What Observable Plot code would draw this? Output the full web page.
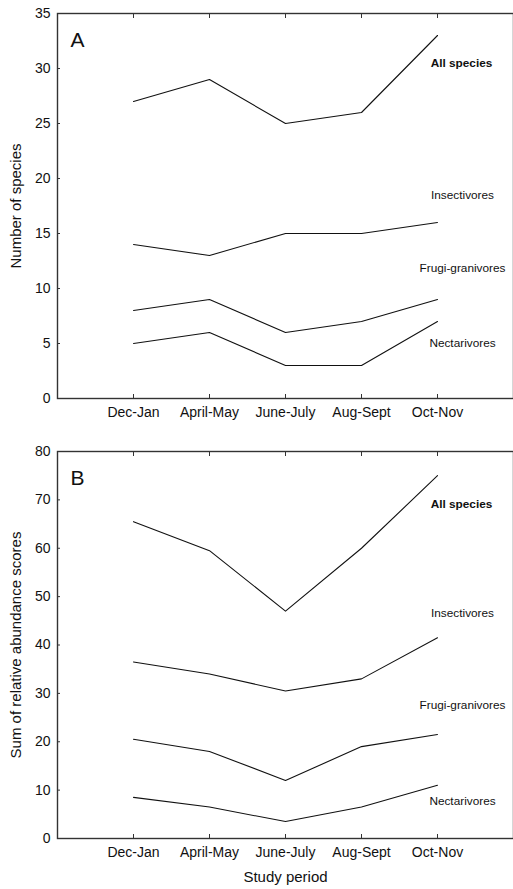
<!DOCTYPE html>
<html>
<head>
<meta charset="utf-8">
<script src="https://cdn.jsdelivr.net/npm/d3@7"></script>
<script src="https://cdn.jsdelivr.net/npm/@observablehq/plot@0.6"></script>
<style>
  html, body { margin: 0; padding: 0; background: #fff; }
  #chart svg { display: block; }
  #chart g[aria-label="x-axis tick label"],
  #chart g[aria-label="y-axis tick label"] { font-size: 14px; }
  #chart g[aria-label="x-axis tick label"] text,
  #chart g[aria-label="y-axis tick label"] text { font-size: 14px; }
  #chart g[aria-label="x-axis label"],
  #chart g[aria-label="y-axis label"],
  #chart g[aria-label="x-axis label"] text,
  #chart g[aria-label="y-axis label"] text { font-size: 15px; }
</style>
</head>
<body>
<div id="chart"></div>
<script>
// Categories
const periods = ["Dec-Jan", "April-May", "June-July", "Aug-Sept", "Oct-Nov"];
const guilds = ["All species", "Insectivores", "Frugi-granivores", "Nectarivores"];

// Panel A: number of species
const speciesAll = [27, 29, 25, 26, 33];
const speciesInsect = [14, 13, 15, 15, 16];
const speciesFrugi = [8, 9, 6, 7, 9];
const speciesNectar = [5, 6, 3, 3, 7];
const labelYA = [30.5, 18.5, 11.8, 5.0];
const ticksA = [0, 5, 10, 15, 20, 25, 30, 35];

// Panel B: sum of relative abundance scores
const abundAll = [65.5, 59.5, 47, 60, 75];
const abundInsect = [36.5, 34, 30.5, 33, 41.5];
const abundFrugi = [20.5, 18, 12, 19, 21.5];
const abundNectar = [8.5, 6.5, 3.5, 6.5, 11];
const labelYB = [69, 46.5, 27.5, 7.8];
const ticksB = [0, 10, 20, 30, 40, 50, 60, 70, 80];

const FONT = "'Liberation Sans', Arial, Helvetica, sans-serif";

function rows(series) {
  const out = [];
  series.forEach((vals, gi) => {
    vals.forEach((v, i) => out.push({guild: guilds[gi], period: periods[i], value: v}));
  });
  return out;
}

function panel({series, labelY, ticks, yMax, letter, yLabel, xLabel, height, marginTop, marginBottom}) {
  const data = rows(series);
  const labels = guilds.map((g, i) => ({guild: g, y: labelY[i]}));
  return Plot.plot({
    width: 513,
    height,
    marginLeft: 57,
    marginRight: 0,
    marginTop,
    marginBottom,
    style: {fontFamily: FONT, fontSize: "14px", color: "#111", background: "#fff"},
    x: {type: "point", domain: periods, padding: 1},
    y: {domain: [0, yMax]},
    marks: [
      Plot.frame({stroke: "#333", strokeWidth: 1.4}),
      Plot.axisY({anchor: "left", ticks, tickSize: -3, tickPadding: 10, fontSize: 14,
        label: yLabel, labelAnchor: "center", labelArrow: "none", labelOffset: 47, stroke: "#333"}),
      Plot.axisX({anchor: "bottom", tickSize: -4, tickPadding: 13, fontSize: 14,
        label: xLabel, labelAnchor: "center", labelArrow: "none", labelOffset: 43, stroke: "#333"}),
      Plot.axisX({anchor: "top", tickSize: -4, tickFormat: () => "", label: null, stroke: "#333"}),
      Plot.line(data, {x: "period", y: "value", z: "guild", stroke: "#111", strokeWidth: 1.1}),
      Plot.text(labels.filter(d => d.guild === "All species"), {
        x: () => periods[periods.length - 1], y: "y", text: "guild", dx: 24,
        fontSize: 11.8, fontWeight: "bold", fill: "#111"}),
      Plot.text(labels.filter(d => d.guild !== "All species"), {
        x: () => periods[periods.length - 1], y: "y", text: "guild", dx: 25,
        fontSize: 11.8, fill: "#111"}),
      Plot.text([letter], {frameAnchor: "top-left", text: d => d, dx: 13, dy: 27,
        textAnchor: "start", lineAnchor: "middle", fontSize: 21, fill: "#111"})
    ]
  });
}

const chart = document.getElementById("chart");
chart.append(panel({
  series: [speciesAll, speciesInsect, speciesFrugi, speciesNectar],
  labelY: labelYA, ticks: ticksA, yMax: 35, letter: "A",
  yLabel: "Number of species", xLabel: null,
  height: 440, marginTop: 13, marginBottom: 42
}));
chart.append(panel({
  series: [abundAll, abundInsect, abundFrugi, abundNectar],
  labelY: labelYB, ticks: ticksB, yMax: 80, letter: "B",
  yLabel: "Sum of relative abundance scores", xLabel: "Study period",
  height: 449, marginTop: 11, marginBottom: 51
}));
</script>
</body>
</html>
